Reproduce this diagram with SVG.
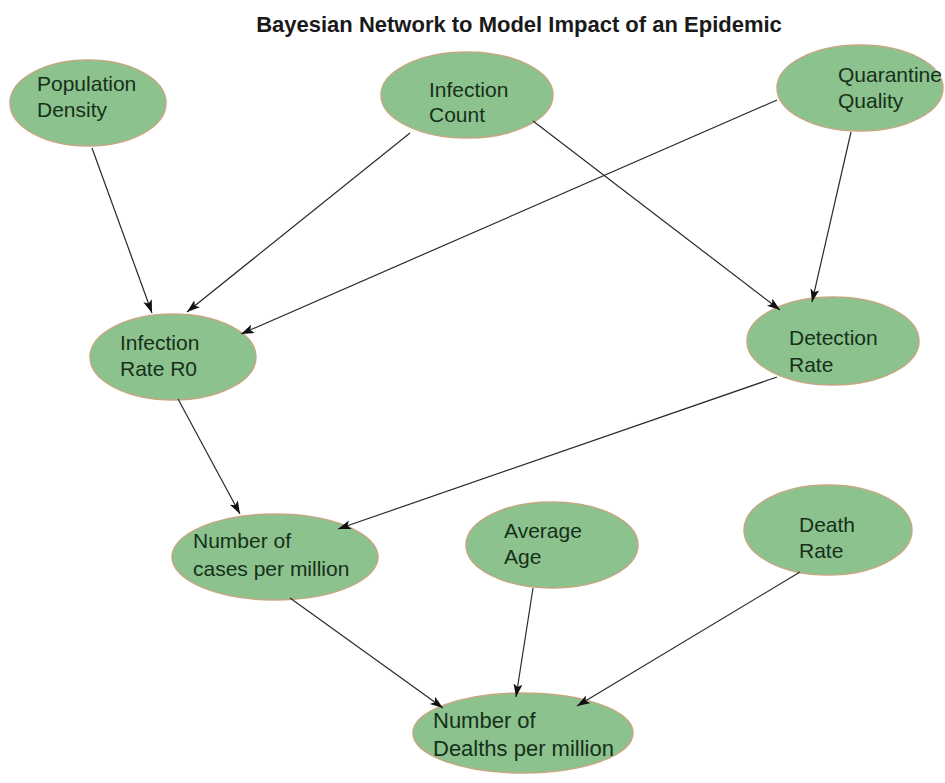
<svg xmlns="http://www.w3.org/2000/svg" width="945" height="783" viewBox="0 0 945 783">
<style>
.node ellipse{fill:#8cc28d;stroke:#c4a884;stroke-width:1.5}
.node text{font-family:"Liberation Sans",Arial,sans-serif;font-size:21px;fill:#16301a}
.edge{stroke:#2a2a2a;stroke-width:1.2;fill:none;marker-end:url(#arr)}
.title{font-family:"Liberation Sans",Arial,sans-serif;font-size:22px;font-weight:bold;fill:#1a1a1a}
</style>
<defs>
<marker id="arr" markerUnits="userSpaceOnUse" markerWidth="14" markerHeight="10" refX="13" refY="4.5" orient="auto">
<path d="M0,0 L13,4.5 L0,9 L3,4.5 z" fill="#111"/>
</marker>
</defs>
<rect width="945" height="783" fill="#ffffff"/>
<text class="title" x="519" y="32" text-anchor="middle">Bayesian Network to Model Impact of an Epidemic</text>
<g id="population-density" class="node">
<ellipse cx="88" cy="103" rx="78" ry="43"/>
<text x="37" y="91">Population</text>
<text x="37" y="117">Density</text>
</g>
<g id="infection-count" class="node">
<ellipse cx="467" cy="95" rx="86" ry="43"/>
<text x="429" y="97">Infection</text>
<text x="429" y="122">Count</text>
</g>
<g id="quarantine-quality" class="node">
<ellipse cx="860" cy="88" rx="83" ry="43"/>
<text x="838" y="82">Quarantine</text>
<text x="838" y="108">Quality</text>
</g>
<g id="infection-rate" class="node">
<ellipse cx="173" cy="357" rx="83" ry="43"/>
<text x="120" y="350">Infection</text>
<text x="120" y="376">Rate R0</text>
</g>
<g id="detection-rate" class="node">
<ellipse cx="833" cy="341" rx="86" ry="44"/>
<text x="789" y="345">Detection</text>
<text x="789" y="372">Rate</text>
</g>
<g id="cases-per-million" class="node">
<ellipse cx="275" cy="557" rx="103" ry="43"/>
<text x="193" y="548">Number of</text>
<text x="193" y="576">cases per million</text>
</g>
<g id="average-age" class="node">
<ellipse cx="552" cy="545" rx="86" ry="43"/>
<text x="504" y="538">Average</text>
<text x="504" y="564">Age</text>
</g>
<g id="death-rate" class="node">
<ellipse cx="828" cy="530" rx="84" ry="45"/>
<text x="799" y="532">Death</text>
<text x="799" y="558">Rate</text>
</g>
<g id="deaths-per-million" class="node">
<ellipse cx="523" cy="733" rx="110" ry="40"/>
<text x="433" y="728" style="font-size:22px">Number of</text>
<text x="433" y="756" style="font-size:22px">Dealths per million</text>
</g>
<g id="connectors">
<line class="edge" x1="92" y1="148" x2="152" y2="313"/>
<line class="edge" x1="410" y1="133" x2="187" y2="312"/>
<line class="edge" x1="777" y1="100" x2="241" y2="334"/>
<line class="edge" x1="533" y1="121" x2="780" y2="310"/>
<line class="edge" x1="851" y1="132" x2="812" y2="302"/>
<line class="edge" x1="178" y1="399" x2="240" y2="514"/>
<line class="edge" x1="777" y1="377" x2="338" y2="529"/>
<line class="edge" x1="290" y1="598" x2="443" y2="708"/>
<line class="edge" x1="533" y1="588" x2="516" y2="697"/>
<line class="edge" x1="800" y1="572" x2="577" y2="706"/>
</g>
</svg>
